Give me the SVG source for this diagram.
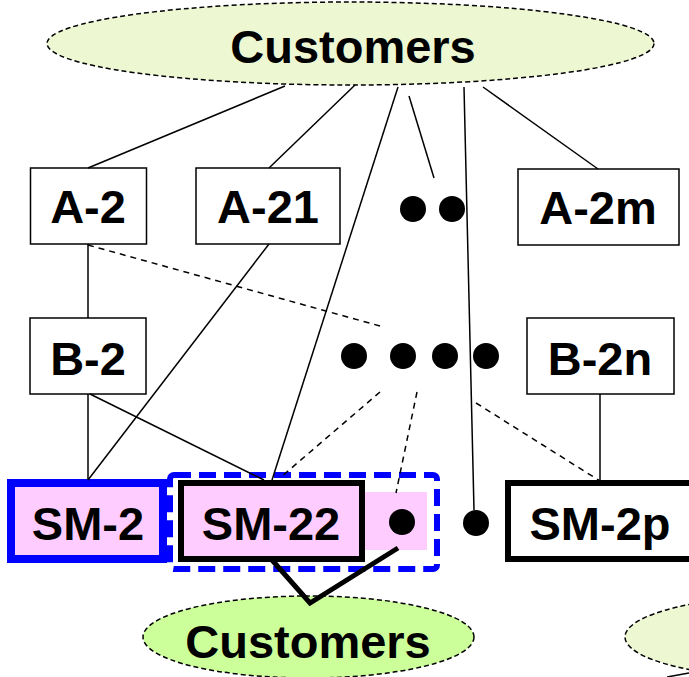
<svg xmlns="http://www.w3.org/2000/svg" width="689" height="677" viewBox="0 0 689 677">
<defs>
<style>
.lbl{font-family:"Liberation Sans",Arial,sans-serif;font-weight:bold;font-size:47px;fill:#000;text-anchor:middle}
.box{fill:#fff;stroke:#000;stroke-width:1.5}
.ln{stroke:#000;stroke-width:1.5;fill:none}
.dl{stroke:#000;stroke-width:1.5;fill:none;stroke-dasharray:6 5}
.dot{fill:#000}
.ell{stroke:#000;stroke-width:1.5;stroke-dasharray:5 3}
</style>
</defs>
<rect width="689" height="677" fill="#fff"/>
<g id="customers-top">
<ellipse class="ell" cx="350.5" cy="43.5" rx="303.5" ry="41.5" fill="#EDF8D3"/>
<text class="lbl" x="353" y="63">Customers</text>
</g>
<g id="customers-right">
<ellipse class="ell" cx="800" cy="637" rx="175" ry="42" fill="#EDF8D3"/>
</g>
<g id="A-2"><rect class="box" x="30.5" y="168" width="116" height="76"/><text class="lbl" x="88" y="223">A-2</text></g>
<g id="A-21"><rect class="box" x="196" y="168" width="144" height="76"/><text class="lbl" x="268" y="223">A-21</text></g>
<g id="A-dots"><circle class="dot" cx="413" cy="209" r="13"/><circle class="dot" cx="452" cy="209" r="13"/></g>
<g id="A-2m"><rect class="box" x="518" y="169" width="161" height="76"/><text class="lbl" x="598" y="224">A-2m</text></g>
<g id="B-2"><rect class="box" x="30" y="318" width="116" height="76"/><text class="lbl" x="88" y="375">B-2</text></g>
<g id="B-dots"><circle class="dot" cx="354" cy="356" r="13"/><circle class="dot" cx="403" cy="356" r="13"/><circle class="dot" cx="445" cy="356" r="13"/><circle class="dot" cx="486" cy="356" r="13"/></g>
<g id="B-2n"><rect class="box" x="527" y="318" width="147" height="76"/><text class="lbl" x="600" y="375">B-2n</text></g>
<g id="SM-2"><rect x="11" y="483" width="152" height="76" fill="#FFCCFF" stroke="#0000FF" stroke-width="8"/><text class="lbl" x="88" y="540">SM-2</text></g>
<g id="SM-group">
<rect x="170" y="475" width="267" height="94" rx="4" fill="#fff" stroke="#0000FF" stroke-width="6" stroke-dasharray="17 8"/>
<rect x="365" y="492" width="62" height="58" fill="#FFCCFF"/>
<circle class="dot" cx="402" cy="522" r="13"/>
</g>
<g id="SM-22"><rect x="181" y="483" width="181" height="76" fill="#FFCCFF" stroke="#000" stroke-width="6"/><text class="lbl" x="271" y="540">SM-22</text></g>
<g id="SM-dot"><circle class="dot" cx="476" cy="523" r="13"/></g>
<g id="SM-2p"><rect x="508" y="483" width="200" height="76" fill="#fff" stroke="#000" stroke-width="6"/><text class="lbl" x="600" y="540">SM-2p</text></g>
<g id="customers-bottom">
<ellipse class="ell" cx="308.5" cy="637" rx="165.5" ry="41" fill="#CCFF99"/>
<text class="lbl" x="308" y="658">Customers</text>
</g>
<g id="connectors">
<line class="ln" x1="285" y1="86" x2="88" y2="168"/>
<line class="ln" x1="355" y1="85" x2="269" y2="168"/>
<line class="ln" x1="398" y1="87" x2="272" y2="480"/>
<line class="ln" x1="409" y1="96" x2="434" y2="178"/>
<line class="ln" x1="464" y1="87" x2="474" y2="510"/>
<line class="ln" x1="483" y1="87" x2="598" y2="169"/>
<line class="ln" x1="88" y1="244" x2="88" y2="318"/>
<line class="dl" x1="88" y1="245" x2="380" y2="326"/>
<line class="ln" x1="269" y1="244" x2="88" y2="480"/>
<line class="ln" x1="88" y1="394" x2="88" y2="480"/>
<line class="ln" x1="90" y1="394" x2="264" y2="480"/>
<line class="dl" x1="380" y1="392" x2="281" y2="477"/>
<line class="dl" x1="417" y1="392" x2="396" y2="493"/>
<line class="dl" x1="476" y1="403" x2="600" y2="481"/>
<line class="ln" x1="600" y1="394" x2="600" y2="481"/>
<polyline points="272,560 310,603 398,548" fill="none" stroke="#000" stroke-width="5"/>
<line class="ln" x1="667" y1="677" x2="689" y2="673" stroke-width="2"/>
</g>
</svg>
